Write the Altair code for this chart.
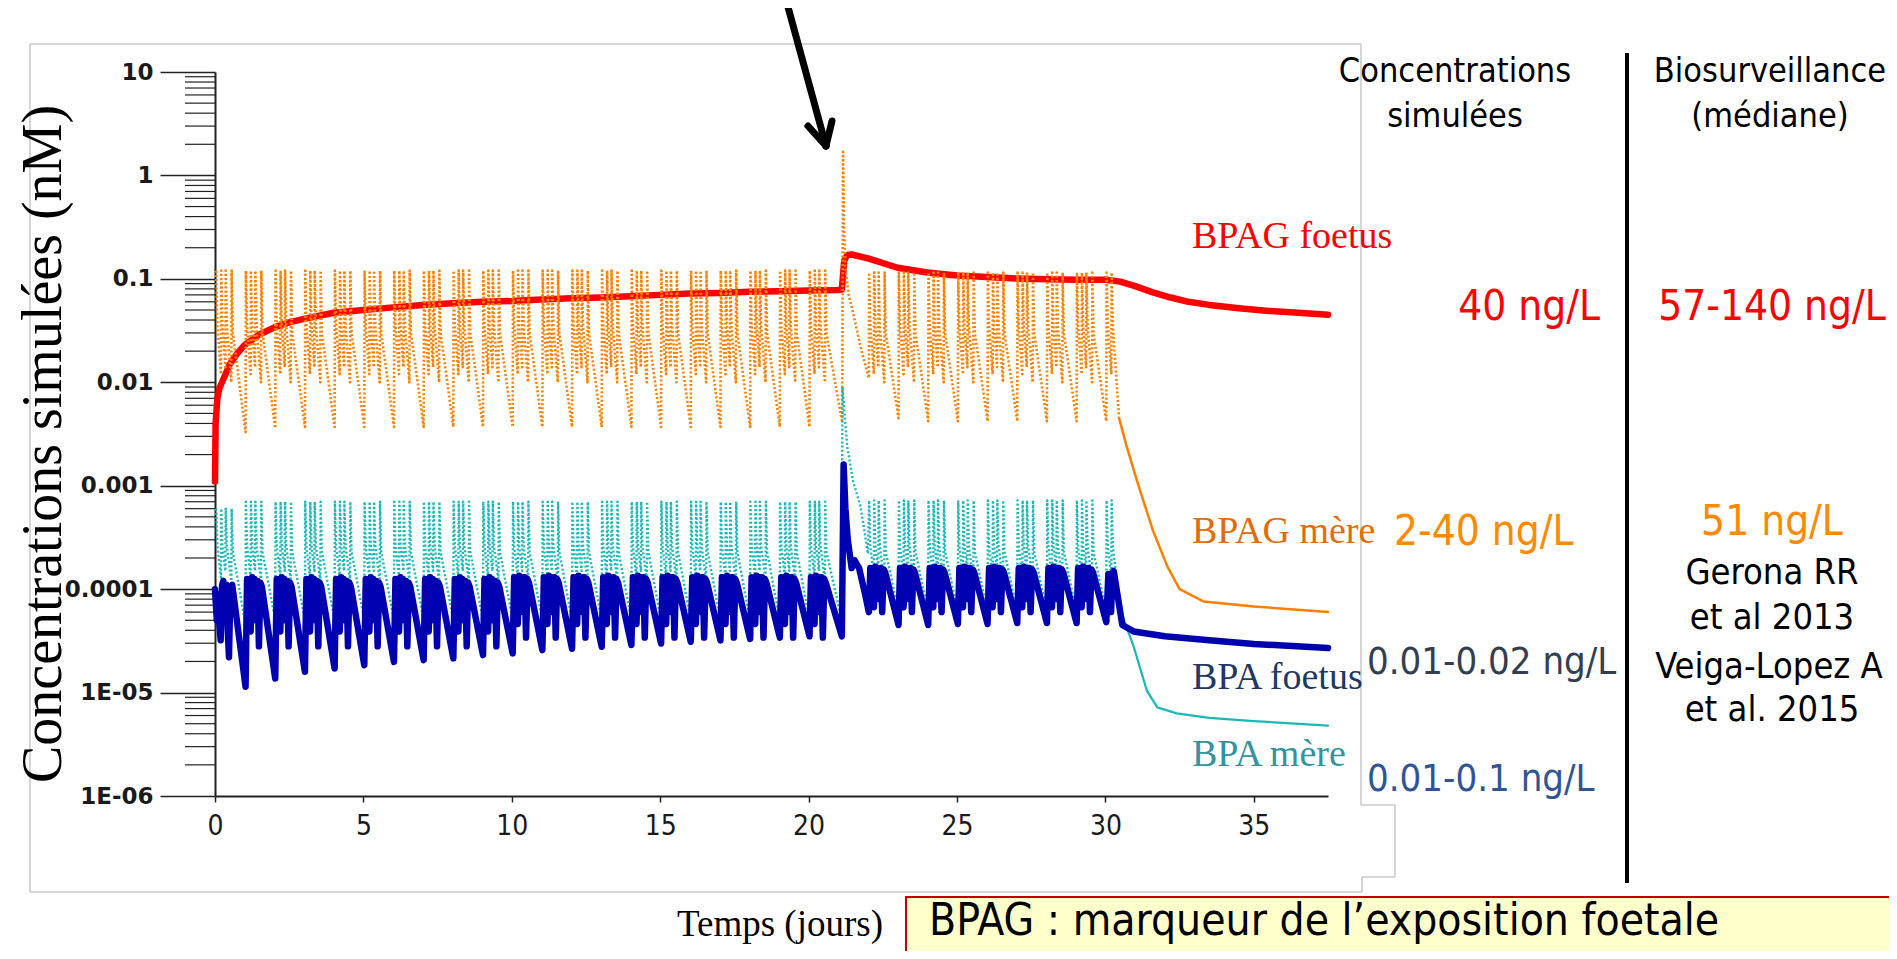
import math
import altair as alt
import pandas as pd

# ---------------- axis data ----------------
x_ticks = [0, 5, 10, 15, 20, 25, 30, 35]
y_tick_values = [10, 1, 0.1, 0.01, 0.001, 0.0001, 0.00001, 0.000001]
y_tick_labels = ["10", "1", "0.1", "0.01", "0.001", "0.0001", "1E-05", "1E-06"]
y_minor_ticks = [m * 10.0 ** k for k in range(-6, 1) for m in range(2, 10)]

# ---------------- BPAG foetus (red) ----------------
red_t = [0, 0.02, 0.08, 0.15, 0.3, 0.5, 0.75, 1.0, 1.5, 2, 2.5, 3,
         4, 5, 6, 7, 8, 9, 10, 11, 12, 13, 14, 15, 16, 17, 18, 19, 20,
         21.0, 21.12, 21.2, 21.3, 21.45,
         22, 23, 24, 25, 26, 27, 28, 29, 30,
         30.5, 31, 31.6, 32.2, 32.8, 33.5, 34.5, 35.5, 36.5, 37.5]
red_v = [0.0011, 0.004, 0.007, 0.0088, 0.011, 0.015, 0.019, 0.023, 0.029, 0.034, 0.038, 0.041,
         0.047, 0.050, 0.053, 0.056, 0.058, 0.060, 0.061, 0.063, 0.065, 0.066, 0.068, 0.070,
         0.072, 0.073, 0.075, 0.076, 0.077,
         0.078, 0.079, 0.15, 0.17, 0.172,
         0.158, 0.128, 0.115, 0.108, 0.104, 0.101, 0.099, 0.098, 0.098,
         0.094, 0.085, 0.074, 0.066, 0.060, 0.056, 0.052, 0.049, 0.047, 0.045]

# ---------------- daily dosing pattern (mother) ----------------
dose_shape_t = [0.04, 0.08, 0.20, 0.21, 0.25, 0.35, 0.36, 0.40, 0.55, 0.56, 0.60]
orange_shape_v = ["peak", 0.035, 0.012, "peak", 0.035, 0.014, "peak", 0.035, 0.010, "peak", 0.030]
teal_shape_v = ["peak", 2.6e-4, 1.3e-4, "peak", 2.6e-4, 1.5e-4, "peak", 2.6e-4, 1.2e-4, "peak", 2.3e-4]
trough_offset = 1.03

# BPAG mere (orange), per day 0..29 (day 21 = spike, listed apart)
orange_peak = [0.12, 0.12, 0.12, 0.12, 0.12, 0.12, 0.12, 0.12, 0.12, 0.12,
               0.12, 0.12, 0.12, 0.12, 0.12, 0.12, 0.12, 0.12, 0.12, 0.12,
               0.12, None, 0.115, 0.115, 0.115, 0.115, 0.115, 0.115, 0.115, 0.115]
orange_trough = [0.0033, 0.0036, 0.0037, 0.0037, 0.0037, 0.0037, 0.0037, 0.0037, 0.0037, 0.0037,
                 0.0037, 0.0037, 0.0037, 0.0037, 0.0037, 0.0037, 0.0037, 0.0037, 0.0037, 0.0037,
                 0.0041, None, 0.0045, 0.0042, 0.0042, 0.0042, 0.0042, 0.0042, 0.0042, 0.0042]
orange_spike_t = [21.16, 21.19, 21.24, 21.35, 21.5, 21.75, 22.03]
orange_spike_v = [1.69, 0.35, 0.13, 0.07, 0.047, 0.022, 0.011]
orange_last_t = [30.04, 30.08, 30.20, 30.21, 30.25, 30.46]
orange_last_v = [0.115, 0.035, 0.012, 0.115, 0.035, 0.0045]
orange_tail_t = [30.46, 30.7, 31.07, 31.6, 32.09, 32.5, 33.3, 35.0, 37.5]
orange_tail_v = [0.0045, 0.0025, 0.0011, 3.7e-4, 1.65e-4, 1.0e-4, 7.6e-5, 6.8e-5, 6.0e-5]

# BPA mere (teal)
teal_peak = [6.0e-4, 7.0e-4, 7.0e-4, 7.0e-4, 7.0e-4, 7.0e-4, 7.0e-4, 7.0e-4, 7.0e-4, 7.0e-4,
             7.0e-4, 7.0e-4, 7.0e-4, 7.0e-4, 7.0e-4, 7.0e-4, 7.0e-4, 7.0e-4, 7.0e-4, 7.0e-4,
             7.0e-4, None, 7.2e-4, 7.2e-4, 7.2e-4, 7.2e-4, 7.2e-4, 7.2e-4, 7.2e-4, 7.2e-4]
teal_trough = [4.5e-5, 5.0e-5, 5.0e-5, 5.0e-5, 5.0e-5, 5.0e-5, 5.0e-5, 5.0e-5, 5.0e-5, 5.0e-5,
               5.0e-5, 5.0e-5, 5.0e-5, 5.0e-5, 5.0e-5, 5.0e-5, 5.0e-5, 5.0e-5, 5.0e-5, 5.0e-5,
               5.0e-5, None, 6.0e-5, 6.0e-5, 6.0e-5, 6.0e-5, 6.0e-5, 6.0e-5, 6.0e-5, 6.0e-5]
teal_spike_t = [21.14, 21.3, 21.5, 21.75, 22.0]
teal_spike_v = [0.0091, 0.0024, 0.0011, 6.3e-4, 2.2e-4]
teal_last_t = [30.04, 30.08, 30.20, 30.21, 30.25, 30.5]
teal_last_v = [7.2e-4, 2.6e-4, 1.3e-4, 7.2e-4, 2.6e-4, 6.3e-5]
teal_tail_t = [30.5, 30.95, 31.4, 31.75, 32.4, 33.5, 35.0, 37.5]
teal_tail_v = [6.3e-5, 2.8e-5, 1.04e-5, 7.2e-6, 6.3e-6, 5.7e-6, 5.3e-6, 4.8e-6]

# BPA foetus (blue)
blue_day0_t = [0.0, 0.06, 0.10, 0.15, 0.19, 0.24, 0.28, 0.33, 0.38, 0.43, 0.47, 0.52, 0.58]
blue_day0_v = [1.0e-4, 5.0e-5, 9.0e-5, 4.5e-5, 3.2e-5, 1.1e-4, 1.2e-4, 6.0e-5, 1.1e-4, 4.0e-5,
               2.2e-5, 1.0e-4, 1.1e-4]
blue_shape_t = [0.08, 0.12, 0.16, 0.20, 0.25, 0.29, 0.33, 0.38, 0.43, 0.48, 0.53, 0.58]
blue_shape_early = [1.25e-4, 6.0e-5, 1.2e-4, 3.9e-5, 1.3e-4, 7.0e-5, 1.25e-4, 5.0e-5, 1.2e-4,
                    2.8e-5, 1.15e-4, 1.05e-4]
blue_shape_mid = [1.3e-4, 6.5e-5, 1.3e-4, 4.6e-5, 1.35e-4, 8.0e-5, 1.3e-4, 6.0e-5, 1.3e-4,
                  3.4e-5, 1.25e-4, 1.15e-4]
blue_shape_post = [1.6e-4, 8.5e-5, 1.6e-4, 6.7e-5, 1.65e-4, 1.0e-4, 1.6e-4, 8.0e-5, 1.6e-4,
                   6.0e-5, 1.55e-4, 1.45e-4]
blue_trough = [None, 1.14e-5, 1.37e-5, 1.59e-5, 1.71e-5, 1.84e-5, 1.98e-5, 2.06e-5, 2.14e-5, 2.30e-5,
               2.39e-5, 2.57e-5, 2.65e-5, 2.77e-5, 2.88e-5, 2.98e-5, 3.1e-5, 3.2e-5, 3.3e-5, 3.4e-5,
               3.5e-5, None, 6.0e-5, 4.5e-5, 4.5e-5, 4.6e-5, 4.6e-5, 4.7e-5, 4.7e-5, 4.7e-5]
blue_spike_t = [21.12, 21.18, 21.24, 21.32, 21.45, 21.55, 21.7, 21.9]
blue_spike_v = [3.5e-5, 1.6e-3, 6.0e-4, 3.0e-4, 1.6e-4, 1.9e-4, 1.6e-4, 9.0e-5]
blue_last_t = [30.03, 30.10, 30.15, 30.19, 30.24, 30.28, 30.57, 30.95, 32.0, 33.5, 35.0, 37.5]
blue_last_v = [4.8e-5, 1.4e-4, 8.0e-5, 6.0e-5, 1.4e-4, 1.5e-4, 4.5e-5, 3.9e-5, 3.5e-5, 3.2e-5,
               2.95e-5, 2.7e-5]

days_before = list(range(0, 21))
days_after = list(range(22, 30))


def mother_cycles(days, shape_v, peaks, troughs, last_trough_t):
    pts = []
    for d in days:
        for o, v in zip(dose_shape_t, shape_v):
            pts.append((d + o, peaks[d] if v == "peak" else v))
        t_end = last_trough_t if d == 20 else d + trough_offset
        pts.append((t_end, troughs[d]))
    return pts


def frame(pts, name):
    return pd.DataFrame({"t": [p[0] for p in pts], "v": [p[1] for p in pts],
                         "i": list(range(len(pts))), "s": name})


orange_pts = (mother_cycles(days_before, orange_shape_v, orange_peak, orange_trough, 21.13)
              + list(zip(orange_spike_t, orange_spike_v))
              + mother_cycles(days_after, orange_shape_v, orange_peak, orange_trough, None)
              + list(zip(orange_last_t, orange_last_v)))
teal_pts = (mother_cycles(days_before, teal_shape_v, teal_peak, teal_trough, 21.12)
            + list(zip(teal_spike_t, teal_spike_v))
            + mother_cycles(days_after, teal_shape_v, teal_peak, teal_trough, None)
            + list(zip(teal_last_t, teal_last_v)))
blue_pts = list(zip(blue_day0_t, blue_day0_v))
for d in list(range(1, 21)) + days_after:
    shape = blue_shape_early if d < 10 else (blue_shape_mid if d <= 20 else blue_shape_post)
    blue_pts.append((d + 0.03, blue_trough[d]))
    blue_pts += [(d + o, v) for o, v in zip(blue_shape_t, shape)]
    if d == 20:
        blue_pts += list(zip(blue_spike_t, blue_spike_v))
blue_pts += list(zip(blue_last_t, blue_last_v))

df_red = frame(list(zip(red_t, red_v)), "BPAG foetus")
df_orange = frame(orange_pts, "BPAG mère")
df_orange_tail = frame(list(zip(orange_tail_t, orange_tail_v)), "BPAG mère")
df_teal = frame(teal_pts, "BPA mère")
df_teal_tail = frame(list(zip(teal_tail_t, teal_tail_v)), "BPA mère")
df_blue = frame(blue_pts, "BPA foetus")
df_minor = pd.DataFrame({"v": y_minor_ticks})

# ---------------- scales / axes ----------------
W, H = 1113, 724
xs = alt.Scale(domain=[0, 37.5], nice=False, zero=False)
ys = alt.Scale(type="log", domain=[1e-6, 10], nice=False)

label_expr = " : ".join(
    f"abs(log(datum.value)/LN10 - ({round(math.log10(v))})) < 0.01 ? '{lab}'"
    for v, lab in zip(y_tick_values, y_tick_labels)) + " : ''"

NARROW = "DejaVu Sans Condensed, Liberation Sans Narrow, Open Sans, sans-serif"
SANS = "DejaVu Sans Condensed, Open Sans, sans-serif"
SERIF = "Liberation Serif, Times New Roman, serif"

x_axis = alt.Axis(values=x_ticks, title=None, grid=False, tickSize=6, tickWidth=1.5,
                  tickColor="#222", domainColor="#222", domainWidth=2, labelFont=NARROW,
                  labelFontSize=28, labelColor="#1a1a1a", labelPadding=10, labelFlush=False,
                  orient="bottom")
y_axis = alt.Axis(values=y_tick_values, labelExpr=label_expr, title=None, grid=False,
                  tickSize=55, tickWidth=1.5, tickColor="#222", domainColor="#222",
                  domainWidth=2, labelFont="DejaVu Sans", labelFontSize=23,
                  labelFontWeight="bold", labelColor="#1a1a1a", labelPadding=7,
                  labelFlush=False, labelAlign="right", labelBaseline="middle", orient="left")

X = alt.X("t:Q", scale=xs, axis=x_axis)
Y = alt.Y("v:Q", scale=ys, axis=y_axis)


def line(df, color, width, dash=None):
    kw = dict(color=color, strokeWidth=width, strokeJoin="round")
    if dash:
        kw["strokeDash"] = dash
    else:
        kw["strokeCap"] = "round"
    return alt.Chart(df).mark_line(**kw).encode(x=X, y=Y, order="i:Q")


def seg(x1, y1, x2, y2, color, width, cap="butt"):
    return alt.Chart(pd.DataFrame({"a": [0]})).mark_rule(
        color=color, strokeWidth=width, strokeCap=cap).encode(
        x=alt.value(x1), y=alt.value(y1), x2=alt.value(x2), y2=alt.value(y2))


def label(text, x, y, size, color, font, align="left", angle=0, weight="normal",
          baseline="middle"):
    return alt.Chart(pd.DataFrame({"s": [text]})).mark_text(
        align=align, baseline=baseline, fontSize=size, color=color, font=font,
        angle=angle, fontWeight=weight).encode(x=alt.value(x), y=alt.value(y), text="s:N")


minor = alt.Chart(df_minor).mark_rule(color="#222", strokeWidth=1.2).encode(
    y=Y, x=alt.value(-30), x2=alt.value(0))

GRAY = "#c8c8c8"
layers = [
    # grey frame of the pasted figure
    seg(-185, -28, 1146, -28, GRAY, 1.5),
    seg(-185, -28, -185, 820, GRAY, 1.5),
    seg(-185, 820, 1147, 820, GRAY, 1.5),
    seg(1146, -28, 1146, 733, GRAY, 1.5),
    seg(1146, 733, 1180, 733, GRAY, 1.5),
    seg(1180, 733, 1180, 805, GRAY, 1.5),
    seg(1180, 805, 1147, 805, GRAY, 1.5),
    seg(1147, 805, 1147, 820, GRAY, 1.5),
    minor,
    line(df_red, "#ff0000", 6.5),
    line(df_orange, "#ff8000", 2.6, [2, 2.2]),
    line(df_orange_tail, "#ff8000", 2.5),
    line(df_teal, "#1cb8b8", 2.4, [2, 2.2]),
    line(df_teal_tail, "#1cb8b8", 2.2),
    line(df_blue, "#0000b0", 6.5),
    # arrow
    seg(573, -65, 611, 74, "black", 7, "round"),
    seg(593, 54, 611, 74, "black", 7, "round"),
    seg(617, 49, 611, 74, "black", 7, "round"),
    # axis titles
    label("Concentrations simulées (nM)", -171, 372, 56, "black", SERIF, align="center", angle=270),
    label("Temps (jours)", 565, 864, 37, "black", SERIF, align="center", baseline="alphabetic"),
    # curve labels
    label("BPAG foetus", 977, 165, 38, "#ff0000", SERIF),
    label("BPAG mère", 977, 460, 38, "#e36c0a", SERIF),
    label("BPA foetus", 977, 606, 38, "#1f3864", SERIF),
    label("BPA mère", 977, 683, 38, "#31949e", SERIF),
    # table columns
    seg(1412, -19, 1412, 811, "black", 4),
    label("Concentrations", 1240, 0, 34, "black", SANS, align="center"),
    label("simulées", 1240, 45, 34, "black", SANS, align="center"),
    label("Biosurveillance", 1555, 0, 34, "black", SANS, align="center"),
    label("(médiane)", 1555, 45, 34, "black", SANS, align="center"),
    label("40 ng/L", 1385, 235, 42, "#ff0000", SANS, align="right"),
    label("57-140 ng/L", 1557, 235, 42, "#ff0000", SANS, align="center"),
    label("2-40 ng/L", 1179, 460, 42, "#ff8a00", SANS),
    label("51 ng/L", 1557, 450, 42, "#ff8a00", SANS, align="center"),
    label("Gerona RR", 1557, 501, 36, "black", SANS, align="center"),
    label("et al 2013", 1557, 546, 36, "black", SANS, align="center"),
    label("Veiga-Lopez A", 1554, 595, 36, "black", SANS, align="center"),
    label("et al. 2015", 1557, 638, 36, "black", SANS, align="center"),
    label("0.01-0.02 ng/L", 1152, 591, 38, "#333f50", SANS),
    label("0.01-0.1 ng/L", 1152, 708, 38, "#2f5597", SANS),
    # bottom note box
    alt.Chart(pd.DataFrame({"a": [0]})).mark_rect(
        fill="#ffffcc", stroke="#c00000", strokeWidth=2).encode(
        x=alt.value(691), y=alt.value(825), x2=alt.value(1700), y2=alt.value(910)),
    label("BPAG : marqueur de l’exposition foetale", 714, 828, 44, "black", SANS,
          baseline="top"),
]

chart = alt.layer(*layers).properties(
    width=W, height=H,
    padding={"left": 207, "top": 64, "right": 561, "bottom": 155},
    autosize=alt.AutoSizeParams(type="none"),
    background="white",
).configure_view(stroke=None)

chart.save("out.html", embed_options={"renderer": "svg", "actions": False})
